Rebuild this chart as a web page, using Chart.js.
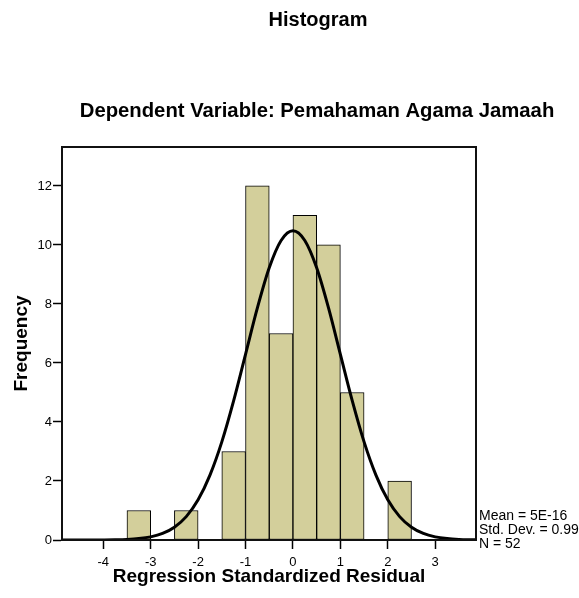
<!DOCTYPE html>
<html>
<head>
<meta charset="utf-8">
<script src="https://cdn.jsdelivr.net/npm/chart.js@4/dist/chart.umd.min.js"></script>
<style>
  html, body { margin: 0; padding: 0; background: #ffffff; }
  #wrap { position: relative; width: 579px; height: 598px; }
</style>
</head>
<body>
<div id="wrap"><canvas id="c" width="579" height="598"></canvas></div>
<script>
// ---- data ----
const binCenters = [-3.25, -2.25, -1.25, -0.75, -0.25, 0.25, 0.75, 1.25, 2.25];
const frequencies = [1, 1, 3, 12, 7, 11, 10, 5, 2];
const curveX = [-4.87, -4.75, -4.5, -4.25, -4, -3.75, -3.5, -3.25, -3, -2.75, -2.5, -2.25, -2, -1.75, -1.5, -1.25, -1, -0.75, -0.5, -0.25, 0, 0.25, 0.5, 0.75, 1, 1.25, 1.5, 1.75, 2, 2.25, 2.5, 2.75, 3, 3.25, 3.5, 3.75, 3.86];
const curveY = [0.0, 0.0001, 0.0003, 0.001, 0.003, 0.008, 0.02, 0.048, 0.106, 0.221, 0.432, 0.792, 1.361, 2.198, 3.325, 4.723, 6.292, 7.865, 9.226, 10.151, 10.48, 10.151, 9.226, 7.865, 6.292, 4.723, 3.325, 2.198, 1.361, 0.792, 0.432, 0.221, 0.106, 0.048, 0.02, 0.008, 0.005];
const xTickValues = [-4, -3, -2, -1, 0, 1, 2, 3];
const yTickValues = [0, 2, 4, 6, 8, 10, 12];
const statsLines = ['Mean = 5E-16', 'Std. Dev. = 0.99', 'N = 52'];
const mainTitle = 'Histogram';
const subTitle = 'Dependent Variable: Pemahaman Agama Jamaah';
const xTitle = 'Regression Standardized Residual';
const yTitle = 'Frequency';

const FONT = '"Liberation Sans", Arial, sans-serif';

const barData = binCenters.map((x, i) => ({ x: x, y: frequencies[i] }));
const lineData = curveX.map((x, i) => ({ x: x, y: curveY[i] }));

const framePlugin = {
  id: 'frame',
  afterDraw(chart) {
    const { ctx, chartArea: a } = chart;
    ctx.save();
    ctx.strokeStyle = '#111';
    ctx.lineWidth = 2;
    ctx.strokeRect(a.left, a.top, a.right - a.left, a.bottom - a.top);
    // titles
    ctx.fillStyle = '#000';
    ctx.textAlign = 'center';
    ctx.textBaseline = 'alphabetic';
    ctx.font = 'bold 20px ' + FONT;
    ctx.fillText(mainTitle, 318, 26);
    ctx.font = 'bold 20.3px ' + FONT;
    ctx.fillText(subTitle, 317, 117);
    // stats text
    ctx.textAlign = 'left';
    ctx.font = '14px ' + FONT;
    statsLines.forEach((t, i) => ctx.fillText(t, 479, 520 + i * 14));
    ctx.restore();
  }
};

new Chart(document.getElementById('c'), {
  type: 'bar',
  data: {
    datasets: [
      {
        type: 'line',
        data: lineData,
        borderColor: '#000',
        borderWidth: 3,
        pointRadius: 0,
        fill: false,
        cubicInterpolationMode: 'monotone',
        order: 0
      },
      {
        type: 'bar',
        data: barData,
        backgroundColor: '#d3cf9b',
        borderColor: '#000',
        borderWidth: 1,
        borderSkipped: false,
        barPercentage: 1,
        categoryPercentage: 1,
        order: 1
      }
    ]
  },
  plugins: [framePlugin],
  options: {
    responsive: false,
    animation: false,
    devicePixelRatio: 1,
    layout: { padding: { top: 147, right: 103, left: 0, bottom: 0 } },
    plugins: { legend: { display: false }, tooltip: { enabled: false }, title: { display: false } },
    scales: {
      x: {
        type: 'linear',
        min: -4.87,
        max: 3.86,
        offset: false,
        afterBuildTicks(s) { s.ticks = xTickValues.map(v => ({ value: v })); },
        afterFit(s) { s.height = 58; },
        ticks: { stepSize: 1, includeBounds: false, color: '#000', padding: 6, font: { family: FONT, size: 13 } },
        grid: { offset: false, drawOnChartArea: false, drawTicks: true, tickLength: 9, tickColor: '#000', tickWidth: 1.5 },
        border: { display: true, color: '#111', width: 2 },
        title: { display: true, text: xTitle, color: '#000', font: { family: FONT, size: 19, weight: 'bold' }, padding: { top: 0, bottom: 10 } }
      },
      y: {
        min: 0,
        max: 13.32,
        afterBuildTicks(s) { s.ticks = yTickValues.map(v => ({ value: v })); },
        afterFit(s) { s.width = 62; },
        ticks: { stepSize: 2, includeBounds: false, color: '#000', padding: 1, font: { family: FONT, size: 13 } },
        grid: { offset: false, drawOnChartArea: false, drawTicks: true, tickLength: 9, tickColor: '#000', tickWidth: 1.5 },
        border: { display: true, color: '#111', width: 2 },
        title: { display: true, text: yTitle, color: '#000', font: { family: FONT, size: 19, weight: 'bold' }, padding: { top: 10, bottom: 0 } }
      }
    }
  }
});
</script>
</body>
</html>
